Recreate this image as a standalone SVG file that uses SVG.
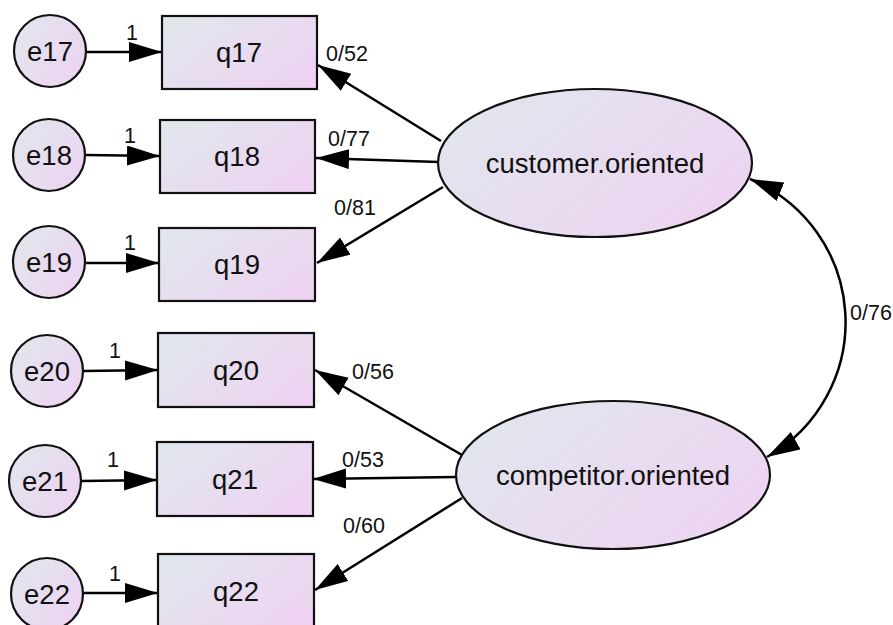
<svg xmlns="http://www.w3.org/2000/svg" width="893" height="625" viewBox="0 0 893 625">
  <defs>
    <linearGradient id="fill" x1="0" y1="0.2" x2="1" y2="0.8">
      <stop offset="0" stop-color="#e1e6ed"/>
      <stop offset="1" stop-color="#eed3f2"/>
    </linearGradient>
    <marker id="ah" markerUnits="userSpaceOnUse" markerWidth="36" markerHeight="22" refX="33" refY="10" orient="auto-start-reverse">
      <path d="M0,0 L33,10 L0,20 z" fill="#000"/>
    </marker>
    <style>
      .box, .err, .lat { fill: url(#fill); stroke: #111; stroke-width: 2.2; }
      .lbl { font-family: "Liberation Sans", Arial, sans-serif; font-size: 27.5px; fill: #111; text-anchor: middle; }
      .val { font-family: "Liberation Sans", Arial, sans-serif; font-size: 21.5px; fill: #111; }
      .edge { stroke: #000; stroke-width: 2.5; fill: none; marker-end: url(#ah); }
    </style>
  </defs>
  <rect width="893" height="625" fill="#fff"/>

  <!-- connectors -->
  <g id="connectors">
    <line class="edge" x1="87" y1="52" x2="162" y2="52"/>
    <line class="edge" x1="86" y1="155" x2="160" y2="156"/>
    <line class="edge" x1="86" y1="263" x2="159" y2="263"/>
    <line class="edge" x1="84" y1="371" x2="158" y2="370"/>
    <line class="edge" x1="82" y1="481" x2="157" y2="480"/>
    <line class="edge" x1="84" y1="593" x2="158" y2="593"/>

    <line class="edge" x1="441" y1="141" x2="318" y2="65"/>
    <line class="edge" x1="439" y1="162" x2="316" y2="158"/>
    <line class="edge" x1="443" y1="187" x2="317" y2="263"/>

    <line class="edge" x1="462" y1="455" x2="315" y2="370"/>
    <line class="edge" x1="456" y1="477" x2="313" y2="479"/>
    <line class="edge" x1="462" y1="498" x2="315" y2="590"/>

    <path class="edge" style="marker-start:url(#ah)" d="M750,179 A155,155 0 0 1 767,457"/>

    <text class="val" x="126" y="40">1</text>
    <text class="val" x="124" y="143">1</text>
    <text class="val" x="124" y="250">1</text>
    <text class="val" x="109" y="358">1</text>
    <text class="val" x="107" y="467">1</text>
    <text class="val" x="109" y="581">1</text>

    <text class="val" x="326" y="61">0/52</text>
    <text class="val" x="328" y="146">0/77</text>
    <text class="val" x="334" y="215">0/81</text>
    <text class="val" x="352" y="379">0/56</text>
    <text class="val" x="342" y="467">0/53</text>
    <text class="val" x="343" y="533">0/60</text>
    <text class="val" x="850" y="320">0/76</text>
  </g>

  <!-- error terms -->
  <g id="e17"><circle class="err" cx="50" cy="51" r="36"/><text class="lbl" x="50" y="61">e17</text></g>
  <g id="e18"><circle class="err" cx="49" cy="155" r="36"/><text class="lbl" x="49" y="165">e18</text></g>
  <g id="e19"><circle class="err" cx="49" cy="262" r="36"/><text class="lbl" x="49" y="272">e19</text></g>
  <g id="e20"><circle class="err" cx="47" cy="371" r="36"/><text class="lbl" x="47" y="381">e20</text></g>
  <g id="e21"><circle class="err" cx="45" cy="481" r="36"/><text class="lbl" x="45" y="491">e21</text></g>
  <g id="e22"><circle class="err" cx="47" cy="594" r="36"/><text class="lbl" x="47" y="604">e22</text></g>

  <!-- observed items -->
  <g id="q17"><rect class="box" x="162" y="16" width="155" height="73"/><text class="lbl" x="239" y="62">q17</text></g>
  <g id="q18"><rect class="box" x="160" y="120" width="155" height="73"/><text class="lbl" x="237" y="166">q18</text></g>
  <g id="q19"><rect class="box" x="159" y="228" width="156" height="73"/><text class="lbl" x="237" y="274">q19</text></g>
  <g id="q20"><rect class="box" x="158" y="333" width="156" height="74"/><text class="lbl" x="236" y="380">q20</text></g>
  <g id="q21"><rect class="box" x="157" y="442" width="156" height="74"/><text class="lbl" x="235" y="489">q21</text></g>
  <g id="q22"><rect class="box" x="158" y="554" width="156" height="73"/><text class="lbl" x="236" y="601">q22</text></g>

  <!-- latent factors -->
  <g id="customer.oriented"><ellipse class="lat" cx="595" cy="163" rx="157" ry="74"/><text class="lbl" x="595" y="173">customer.oriented</text></g>
  <g id="competitor.oriented"><ellipse class="lat" cx="613" cy="475" rx="157" ry="74"/><text class="lbl" x="613" y="485">competitor.oriented</text></g>
</svg>
